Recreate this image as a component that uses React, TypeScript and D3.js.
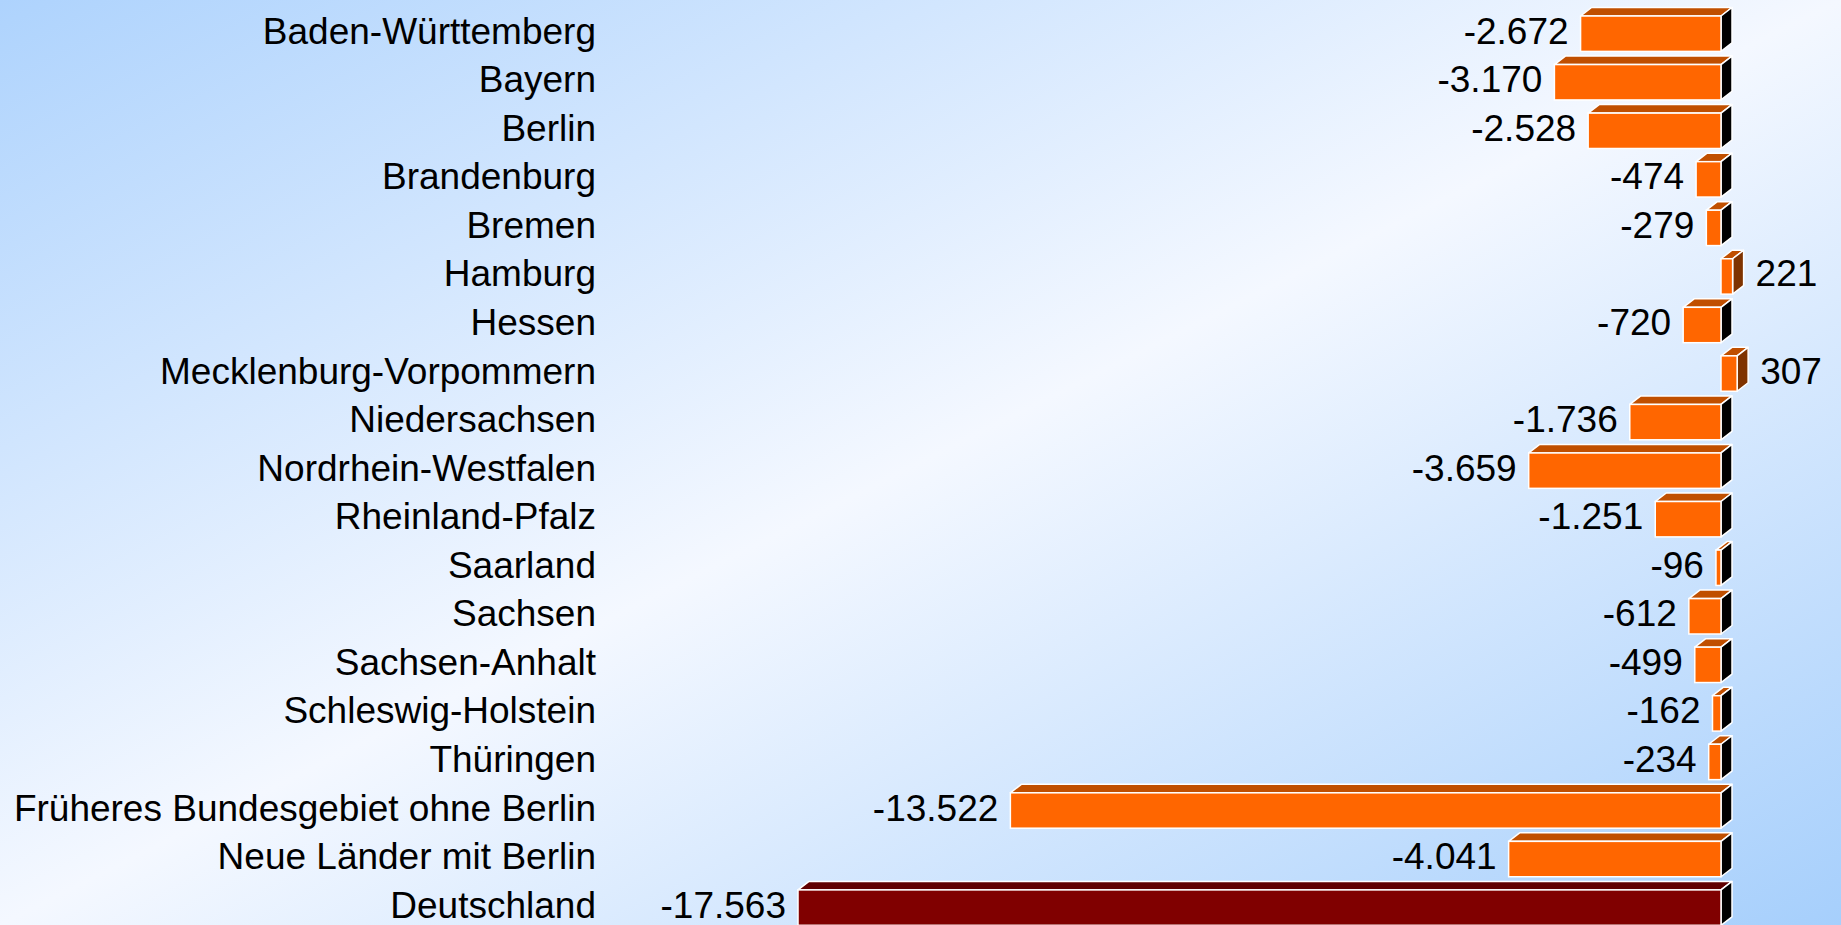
import React from 'react';
import * as d3 from 'd3';

const categories: string[] = [
  'Baden-Württemberg',
  'Bayern',
  'Berlin',
  'Brandenburg',
  'Bremen',
  'Hamburg',
  'Hessen',
  'Mecklenburg-Vorpommern',
  'Niedersachsen',
  'Nordrhein-Westfalen',
  'Rheinland-Pfalz',
  'Saarland',
  'Sachsen',
  'Sachsen-Anhalt',
  'Schleswig-Holstein',
  'Thüringen',
  'Früheres Bundesgebiet ohne Berlin',
  'Neue Länder mit Berlin',
  'Deutschland',
];

const values: number[] = [
  -2672, -3170, -2528, -474, -279, 221, -720, 307, -1736, -3659, -1251, -96, -612, -499, -162,
  -234, -13522, -4041, -17563,
];

const highlighted: string[] = ['Deutschland'];

const W = 1841;
const H = 925;

export default function App() {
  const x = d3.scaleLinear().domain([-17563, 0]).range([798, 1721]);
  const y = d3
    .scaleBand<string>()
    .domain(categories)
    .range([16, 925.3])
    .paddingInner(0.271)
    .paddingOuter(0);
  const bw = y.bandwidth();
  const dx = 11;
  const dy = 8.5;
  const fmt = d3
    .formatLocale({ decimal: ',', thousands: '.', grouping: [3], currency: ['', '€'], minus: '-' })
    .format(',d');
  const fontSize = 37;
  const font = '"Liberation Sans", Arial, sans-serif';
  const labelX = 596;

  return (
    <svg
      width={W}
      height={H}
      style={{ position: 'absolute', left: 0, top: 0, display: 'block' }}
    >
      <defs>
        <linearGradient id="bg" x1="0" y1="0" x2="1" y2="1">
          <stop offset="0" stopColor="#aed3fd" />
          <stop offset="0.5" stopColor="#f4f8ff" />
          <stop offset="1" stopColor="#a6cffc" />
        </linearGradient>
      </defs>
      <rect x={0} y={0} width={W} height={H} fill="url(#bg)" />
      {categories.map((c, i) => {
        const v = values[i];
        const x0 = Math.min(x(v), x(0));
        const x1 = Math.max(x(v), x(0));
        const top = y(c) as number;
        const bottom = top + bw;
        const hi = highlighted.includes(c);
        const frontFill = hi ? '#800000' : '#ff6600';
        const topFill = hi ? '#600000' : '#c04f00';
        const sideFill = v < 0 ? '#000000' : '#7f3300';
        const topPts = [
          [x0, top],
          [x0 + dx, top - dy],
          [x1 + dx, top - dy],
          [x1, top],
        ];
        const sidePts = [
          [x1, top],
          [x1 + dx, top - dy],
          [x1 + dx, bottom - dy],
          [x1, bottom],
        ];
        const cy = top + bw / 2;
        const baseY = cy + 10;
        return (
          <g key={c}>
            <polygon
              points={topPts.map((p) => p.join(',')).join(' ')}
              fill={topFill}
              stroke="#ffffff"
              strokeWidth={1.5}
              strokeLinejoin="round"
            />
            <polygon
              points={sidePts.map((p) => p.join(',')).join(' ')}
              fill={sideFill}
              stroke="#ffffff"
              strokeWidth={1.5}
              strokeLinejoin="round"
            />
            <rect
              x={x0}
              y={top}
              width={x1 - x0}
              height={bw}
              fill={frontFill}
              stroke="#ffffff"
              strokeWidth={1.5}
            />
            <text
              x={labelX}
              y={baseY}
              textAnchor="end"
              fontFamily={font}
              fontSize={fontSize}
              fill="#000"
            >
              {c}
            </text>
            <text
              x={v < 0 ? x0 - 12 : x1 + dx + 12}
              y={baseY}
              textAnchor={v < 0 ? 'end' : 'start'}
              fontFamily={font}
              fontSize={fontSize}
              fill="#000"
            >
              {fmt(v)}
            </text>
          </g>
        );
      })}
    </svg>
  );
}
